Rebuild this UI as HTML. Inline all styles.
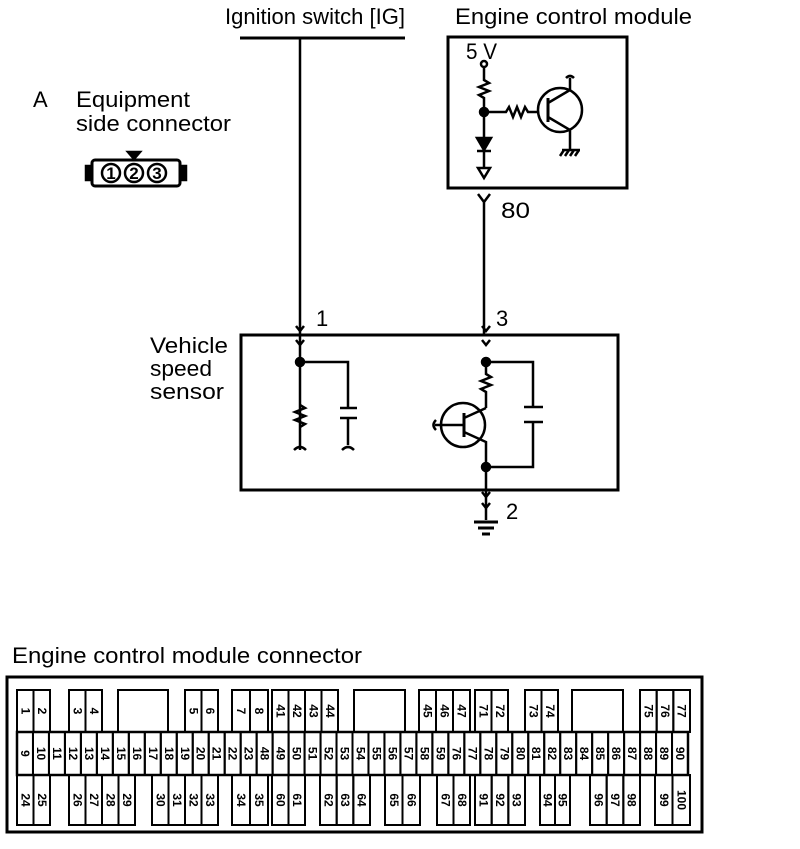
<!DOCTYPE html>
<html><head><style>
body{margin:0;background:#fff;}
svg text{font-family:"Liberation Sans",sans-serif;fill:#000;}
</style></head><body>
<svg width="800" height="844" viewBox="0 0 800 844" xmlns="http://www.w3.org/2000/svg" stroke="#000" fill="none" stroke-width="2.5">
<g stroke="none" font-size="22">
<text x="225" y="24" textLength="180" lengthAdjust="spacingAndGlyphs">Ignition switch [IG]</text>
<text x="455" y="24" textLength="237" lengthAdjust="spacingAndGlyphs">Engine control module</text>
<text x="33" y="107">A</text>
<text x="76" y="107" textLength="114" lengthAdjust="spacingAndGlyphs">Equipment</text>
<text x="76" y="131" textLength="155" lengthAdjust="spacingAndGlyphs">side connector</text>
<text x="150" y="353" textLength="78" lengthAdjust="spacingAndGlyphs">Vehicle</text>
<text x="150" y="376" textLength="62" lengthAdjust="spacingAndGlyphs">speed</text>
<text x="150" y="399" textLength="74" lengthAdjust="spacingAndGlyphs">sensor</text>
<text x="466" y="59" textLength="31" lengthAdjust="spacingAndGlyphs">5 V</text>
<text x="501" y="218" textLength="29" lengthAdjust="spacingAndGlyphs">80</text>
<text x="316" y="326">1</text>
<text x="496" y="326">3</text>
<text x="506" y="519">2</text>
<text x="12" y="663" textLength="350" lengthAdjust="spacingAndGlyphs">Engine control module connector</text>
</g>
<rect x="92" y="160" width="88" height="26" rx="3" stroke-width="3"/>
<rect x="86" y="166" width="6" height="14" fill="#000"/>
<rect x="180" y="166" width="6" height="14" fill="#000"/>
<polygon points="128,152 140,152 134,159" fill="#000"/>
<g stroke-width="2.5"><circle cx="111" cy="173" r="9"/><circle cx="134" cy="173" r="9"/><circle cx="157" cy="173" r="9"/></g>
<g stroke="none" font-size="17" font-weight="bold" text-anchor="middle"><text x="111" y="179">1</text><text x="134" y="179">2</text><text x="157" y="179">3</text></g>
<line x1="240" y1="38" x2="405" y2="38" stroke-width="3"/>
<line x1="300" y1="38" x2="300" y2="450"/>
<rect x="448" y="37" width="179" height="151" stroke-width="3"/>
<circle cx="484" cy="64" r="3"/>
<path d="M484 67 V80 l5 3 -10 4 10 4 -10 4 5 3 V140"/>
<circle cx="484" cy="112" r="4" fill="#000"/>
<path d="M484 112 H506 l3 -5 4 10 4 -10 4 10 4 -10 3 5 H538"/>
<circle cx="560" cy="110" r="22"/>
<line x1="548" y1="98" x2="548" y2="122" stroke-width="3"/>
<path d="M548 103 L570 90 V78 M566 78 q4 -4 8 0 M548 117 L570 130 V150"/>
<path d="M562 150 h18 M564 150 l-4 6 M569 150 l-4 6 M574 150 l-4 6 M579 150 l-4 6"/>
<polygon points="477,138 491,138 484,150" fill="#000"/>
<line x1="477" y1="151" x2="491" y2="151"/>
<path d="M484 151 V168"/>
<polygon points="478,168 490,168 484,178"/>
<path d="M478 194 L484 202 L490 194 M484 202 V335"/>
<rect x="241" y="335" width="377" height="155" stroke-width="3"/>
<path d="M296 326 l4 5 4 -5 M296 340 l4 5 4 -5 M482 326 l4 5 4 -5 M482 340 l4 5 4 -5 M482 492 l4 5 4 -5 M482 503 l4 5 4 -5"/>
<circle cx="300" cy="362" r="4" fill="#000"/>
<path d="M300 405 l5 3 -10 4 10 4 -10 4 10 4 -5 3 M300 362 H348 V408 M340 408 h17 M340 418 h17 M348 418 V445 M294 450 q6 -6 12 0 M342 450 q6 -6 12 0"/>
<circle cx="486" cy="362" r="4" fill="#000"/>
<path d="M486 362 V374 l5 3 -10 4 10 4 -10 4 5 3 V408 M486 362 H533 V407 M524 407 h19 M524 422 h19 M533 422 V467 H486"/>
<circle cx="463" cy="425" r="22"/>
<line x1="464" y1="413" x2="464" y2="437" stroke-width="3"/>
<path d="M464 418 L486 408 M464 432 L486 442 V520 M464 425 H435 M436 420 q-5 5 0 10"/>
<circle cx="486" cy="467" r="4" fill="#000"/>
<path d="M474 522 h24 M478 528 h16 M482 534 h8" stroke-width="3"/>
<rect x="7" y="677" width="695" height="155" stroke-width="3"/>
<rect x="17" y="732" width="671" height="43" stroke-width="2.5"/>
<g id="cells" stroke-width="2"></g>
<g id="labels" stroke="none" font-size="12" font-weight="bold"></g>
</svg>
<script>
var ns="http://www.w3.org/2000/svg";
var cells=document.getElementById("cells"),labels=document.getElementById("labels");
function grp(x0,x1,y0,y1,nums){
 var w=(x1-x0)/nums.length;
 nums.forEach(function(n,i){
  var r=document.createElementNS(ns,"rect");
  r.setAttribute("x",x0+i*w);r.setAttribute("y",y0);r.setAttribute("width",w);r.setAttribute("height",y1-y0);
  cells.appendChild(r);
  var t=document.createElementNS(ns,"text");
  var cx=x0+i*w+w/2,cy=(y0+y1)/2;
  t.setAttribute("transform","translate("+cx+","+cy+") rotate(90)");
  t.setAttribute("text-anchor","middle");t.setAttribute("y","4");
  t.textContent=n;labels.appendChild(t);
 });
}
function box(x0,x1,y0,y1){var r=document.createElementNS(ns,"rect");r.setAttribute("x",x0);r.setAttribute("y",y0);r.setAttribute("width",x1-x0);r.setAttribute("height",y1-y0);cells.appendChild(r);}
function rng(a,b){var r=[];for(var i=a;i<=b;i++)r.push(i);return r;}
var y0=690,y1=732,y2=775,y3=825;
grp(17,50,y0,y1,[1,2]);grp(69,102,y0,y1,[3,4]);box(118,168,y0,y1);
grp(185,218,y0,y1,[5,6]);grp(232,268,y0,y1,[7,8]);grp(272,338,y0,y1,[41,42,43,44]);
box(354,405,y0,y1);grp(419,470,y0,y1,[45,46,47]);grp(475,508,y0,y1,[71,72]);
grp(525,558,y0,y1,[73,74]);box(572,623,y0,y1);grp(640,690,y0,y1,[75,76,77]);
grp(17,688,y1,y2,rng(9,23).concat(rng(48,59)).concat(rng(76,90)));
grp(17,50,y2,y3,[24,25]);grp(69,135,y2,y3,[26,27,28,29]);grp(152,218,y2,y3,[30,31,32,33]);
grp(232,268,y2,y3,[34,35]);grp(272,305,y2,y3,[60,61]);grp(320,370,y2,y3,[62,63,64]);
grp(385,420,y2,y3,[65,66]);grp(437,470,y2,y3,[67,68]);grp(475,525,y2,y3,[91,92,93]);
grp(540,570,y2,y3,[94,95]);grp(590,640,y2,y3,[96,97,98]);grp(655,690,y2,y3,[99,100]);
</script>
</body></html>
